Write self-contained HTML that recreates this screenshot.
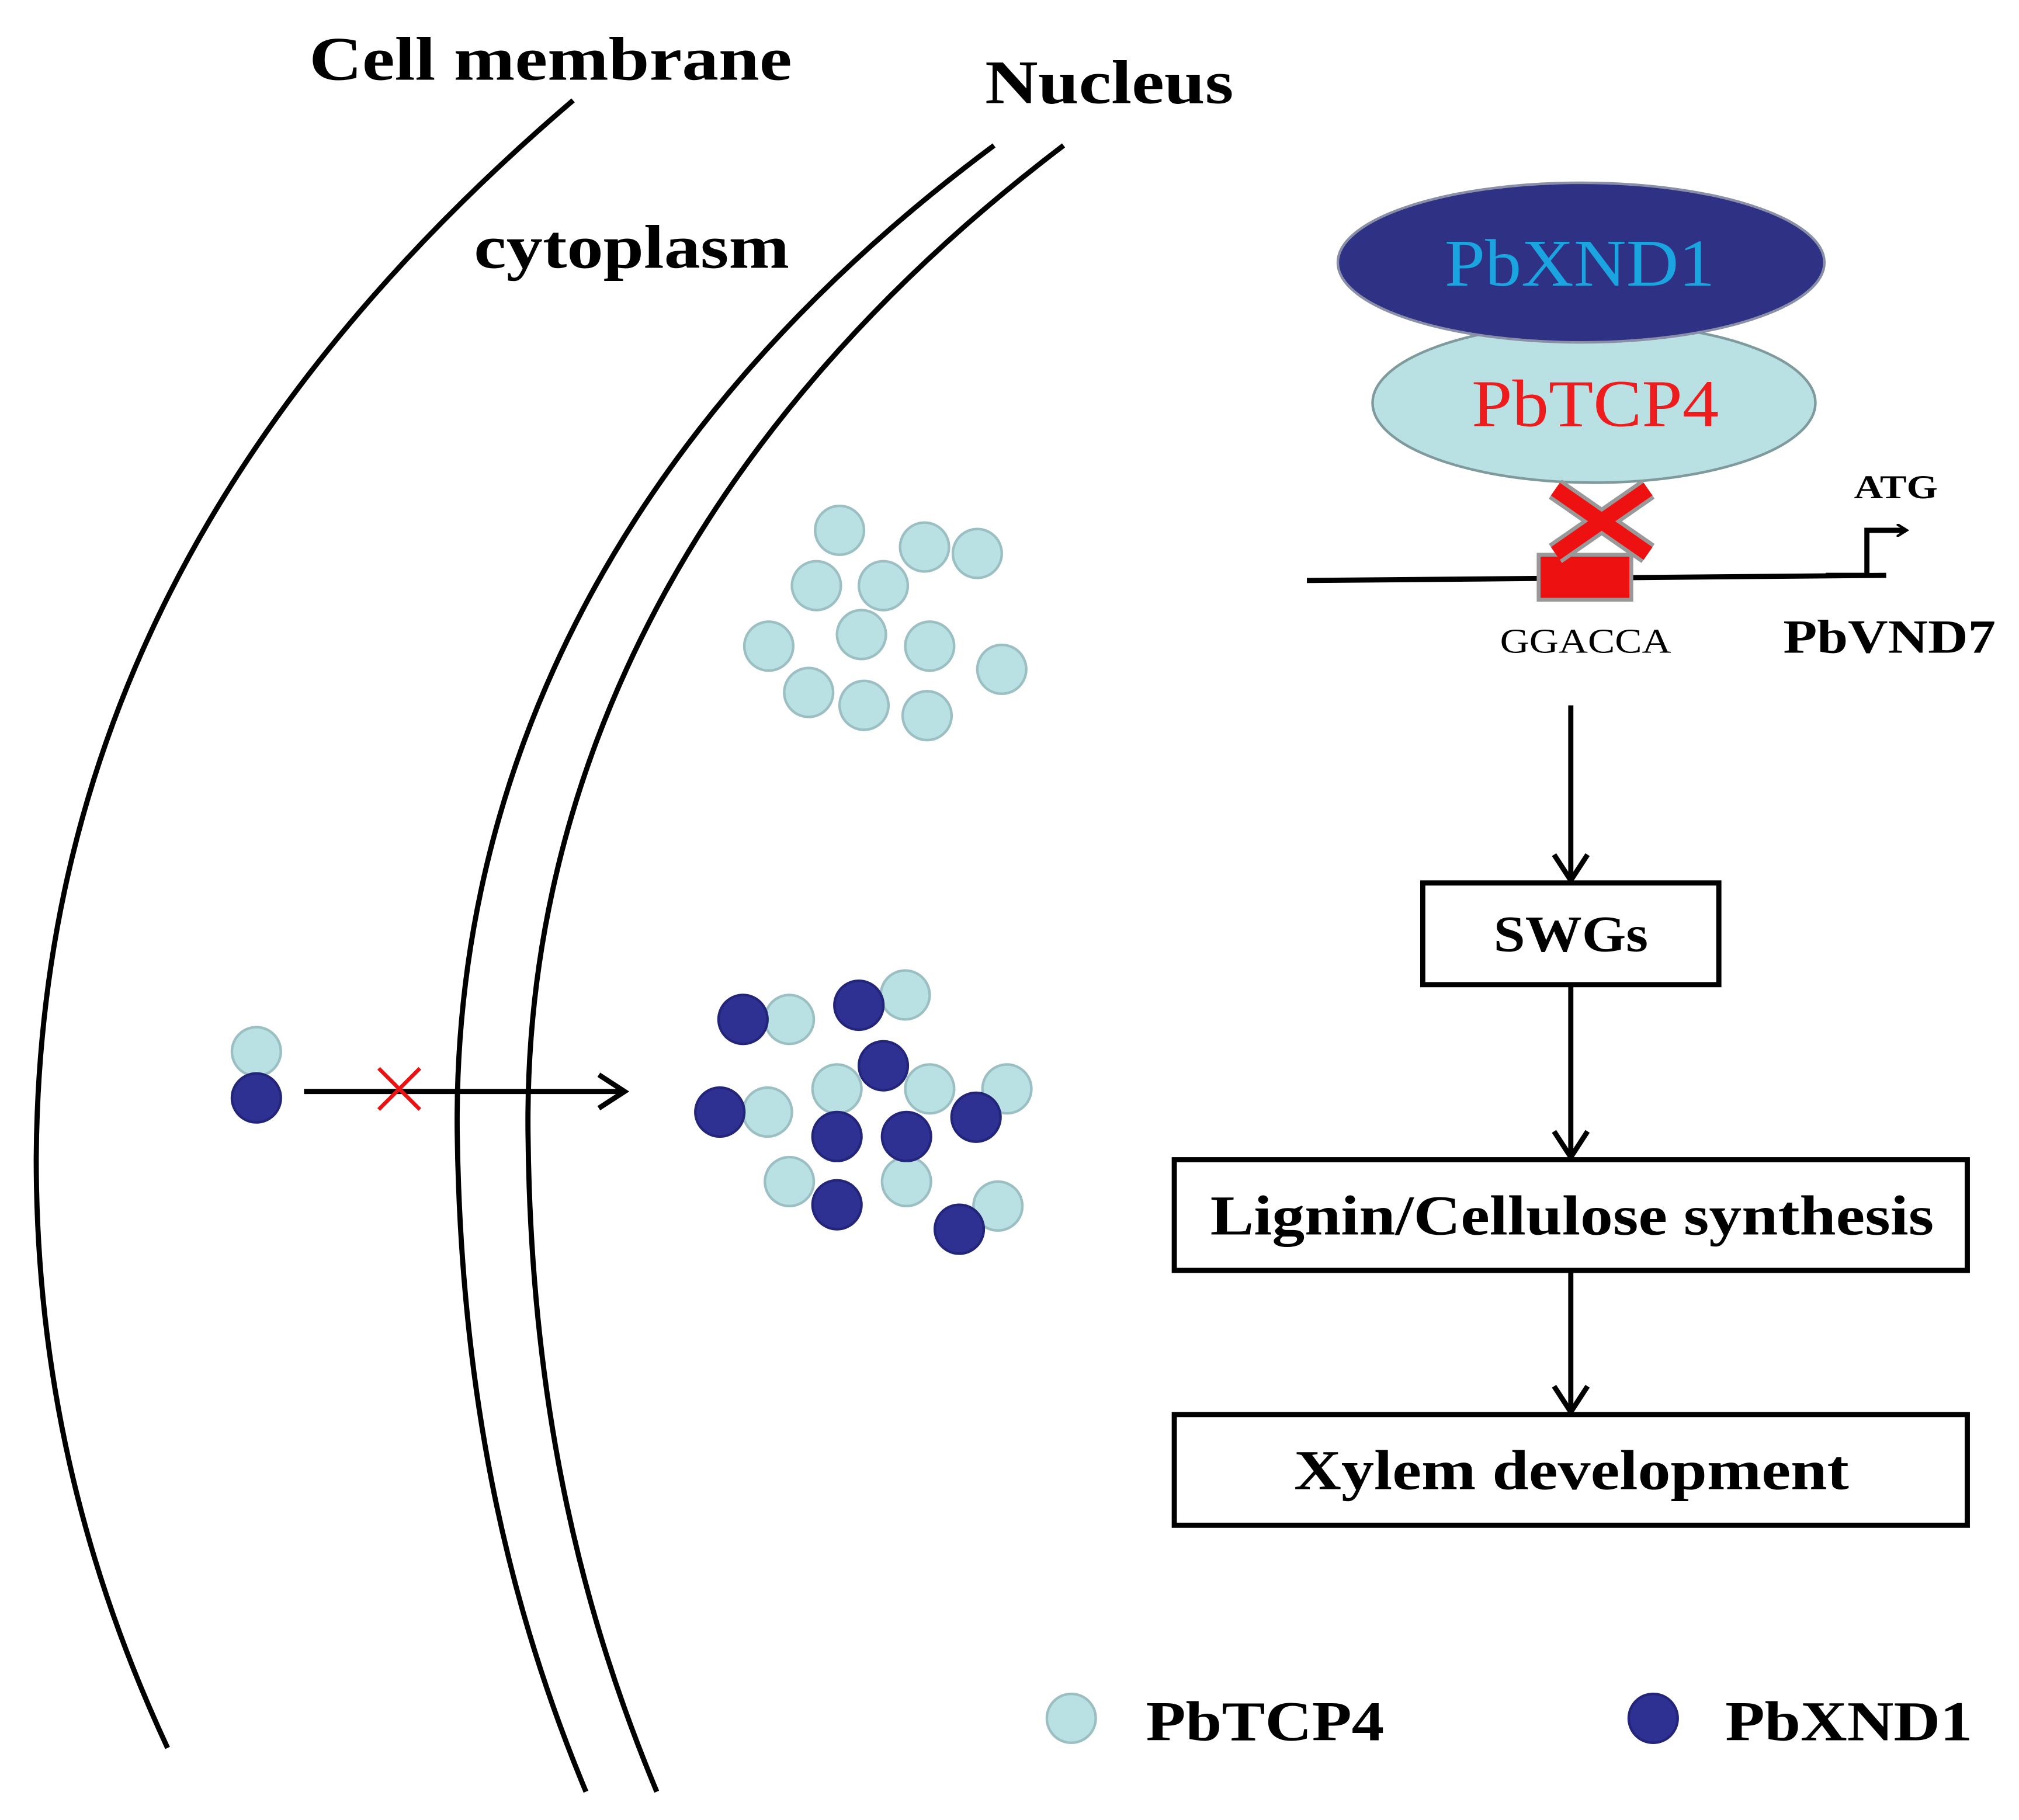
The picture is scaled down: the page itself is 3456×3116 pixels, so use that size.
<!DOCTYPE html>
<html><head><meta charset="utf-8"><style>
html,body{margin:0;padding:0;background:#fff;}
svg{display:block;}
text{font-family:"Liberation Serif",serif;}
</style></head><body>
<svg width="3456" height="3116" viewBox="0 0 1568 1414" xmlns="http://www.w3.org/2000/svg">
<defs>
<marker id="ah" markerWidth="10" markerHeight="10" refX="7" refY="5" orient="auto" markerUnits="userSpaceOnUse" viewBox="0 0 10 10">
<path d="M0,0 L8,5 L0,10" fill="none" stroke="#000" stroke-width="2"/>
</marker>
<marker id="ah2" markerWidth="30" markerHeight="30" refX="26" refY="15" orient="auto" markerUnits="userSpaceOnUse" viewBox="0 0 30 30">
<path d="M6,2 L26,15 L6,28" fill="none" stroke="#000" stroke-width="4"/>
</marker>
</defs>
<g fill="#000" font-weight="bold">
<text x="240" y="62" font-size="48" textLength="375" lengthAdjust="spacingAndGlyphs">Cell membrane</text>
<text x="765" y="80" font-size="48" textLength="193" lengthAdjust="spacingAndGlyphs">Nucleus</text>
<text x="368" y="208" font-size="48" textLength="245" lengthAdjust="spacingAndGlyphs">cytoplasm</text>
</g>
<g fill="none" stroke="#000" stroke-width="4">
<path d="M445,78 C150,330 30,600 28,900 C28,1100 80,1250 130,1358"/>
<path d="M772,113 C480,330 352,600 355,880 C358,1100 400,1260 455,1392"/>
<path d="M826,113 C540,330 407,600 410,880 C412,1100 455,1260 510,1392"/>
</g>
<ellipse cx="1238" cy="313" rx="172" ry="62" fill="#b9e0e2" stroke="#7f9a9c" stroke-width="2"/>
<ellipse cx="1228" cy="204" rx="189" ry="62" fill="#2e3184" stroke="#8a8fa8" stroke-width="2"/>
<text x="1122" y="222" font-size="52" fill="#1aa4e0" textLength="210" lengthAdjust="spacingAndGlyphs">PbXND1</text>
<text x="1143" y="331" font-size="52" fill="#ee1c1c" textLength="192" lengthAdjust="spacingAndGlyphs">PbTCP4</text>
<line x1="1015" y1="451" x2="1465" y2="447" stroke="#000" stroke-width="4"/>
<rect x="1195" y="431" width="72" height="35" fill="#ee1111" stroke="#999" stroke-width="3"/>
<g stroke-linecap="butt">
<line x1="1208" y1="380" x2="1280" y2="430" stroke="#999" stroke-width="18"/>
<line x1="1280" y1="380" x2="1208" y2="430" stroke="#999" stroke-width="18"/>
<line x1="1208" y1="380" x2="1280" y2="430" stroke="#ee1111" stroke-width="12"/>
<line x1="1280" y1="380" x2="1208" y2="430" stroke="#ee1111" stroke-width="12"/>
</g>
<path d="M1418,447 L1450,447 L1450,412 L1480,412" fill="none" stroke="#000" stroke-width="4" marker-end="url(#ah)"/>
<text x="1440" y="387" font-size="26" font-weight="bold" textLength="65" lengthAdjust="spacingAndGlyphs">ATG</text>
<text x="1165" y="507" font-size="27" textLength="133" lengthAdjust="spacingAndGlyphs">GGACCA</text>
<text x="1385" y="507" font-size="37" font-weight="bold" textLength="165" lengthAdjust="spacingAndGlyphs">PbVND7</text>
<g stroke="#000" stroke-width="4">
<line x1="1220" y1="548" x2="1220" y2="684" marker-end="url(#ah2)"/>
<line x1="1220" y1="766" x2="1220" y2="899" marker-end="url(#ah2)"/>
<line x1="1220" y1="988" x2="1220" y2="1097" marker-end="url(#ah2)"/>
</g>
<g fill="#fff" stroke="#000" stroke-width="4">
<rect x="1105" y="686" width="230" height="79"/>
<rect x="912" y="901" width="616" height="86"/>
<rect x="912" y="1099" width="616" height="86"/>
</g>
<g font-weight="bold">
<text x="1160" y="739" font-size="40" textLength="120" lengthAdjust="spacingAndGlyphs">SWGs</text>
<text x="940" y="959" font-size="44" textLength="562" lengthAdjust="spacingAndGlyphs">Lignin/Cellulose synthesis</text>
<text x="1005" y="1157" font-size="44" textLength="431" lengthAdjust="spacingAndGlyphs">Xylem development</text>
</g>
<g fill="#b9e0e2" stroke="#9bbfc2" stroke-width="2">
<circle cx="652" cy="412" r="19"/><circle cx="718" cy="425" r="19"/><circle cx="759" cy="430" r="19"/>
<circle cx="634" cy="455" r="19"/><circle cx="686" cy="455" r="19"/><circle cx="669" cy="493" r="19"/>
<circle cx="597" cy="502" r="19"/><circle cx="722" cy="502" r="19"/><circle cx="778" cy="520" r="19"/>
<circle cx="628" cy="538" r="19"/><circle cx="671" cy="548" r="19"/><circle cx="720" cy="556" r="19"/>
<circle cx="199" cy="817" r="19"/>
<circle cx="613" cy="792" r="19"/><circle cx="703" cy="773" r="19"/><circle cx="650" cy="846" r="19"/>
<circle cx="722" cy="846" r="19"/><circle cx="782" cy="846" r="19"/><circle cx="596" cy="864" r="19"/>
<circle cx="613" cy="918" r="19"/><circle cx="704" cy="918" r="19"/><circle cx="775" cy="937" r="19"/>
<circle cx="832" cy="1335" r="19"/>
</g>
<g fill="#2e3192" stroke="#23257a" stroke-width="2">
<circle cx="199" cy="853" r="19"/>
<circle cx="577" cy="792" r="19"/><circle cx="667" cy="781" r="19"/><circle cx="686" cy="828" r="19"/>
<circle cx="559" cy="864" r="19"/><circle cx="650" cy="883" r="19"/><circle cx="704" cy="883" r="19"/>
<circle cx="758" cy="868" r="19"/><circle cx="650" cy="936" r="19"/><circle cx="745" cy="955" r="19"/>
<circle cx="1284" cy="1335" r="19"/>
</g>
<line x1="236" y1="848" x2="485" y2="848" stroke="#000" stroke-width="4" marker-end="url(#ah2)"/>
<g stroke="#ee1111" stroke-width="3">
<line x1="294" y1="830" x2="326" y2="862"/><line x1="326" y1="830" x2="294" y2="862"/>
</g>
<g font-weight="bold" font-size="44">
<text x="890" y="1352" textLength="185" lengthAdjust="spacingAndGlyphs">PbTCP4</text>
<text x="1340" y="1352" textLength="192" lengthAdjust="spacingAndGlyphs">PbXND1</text>
</g>
</svg>
</body></html>
